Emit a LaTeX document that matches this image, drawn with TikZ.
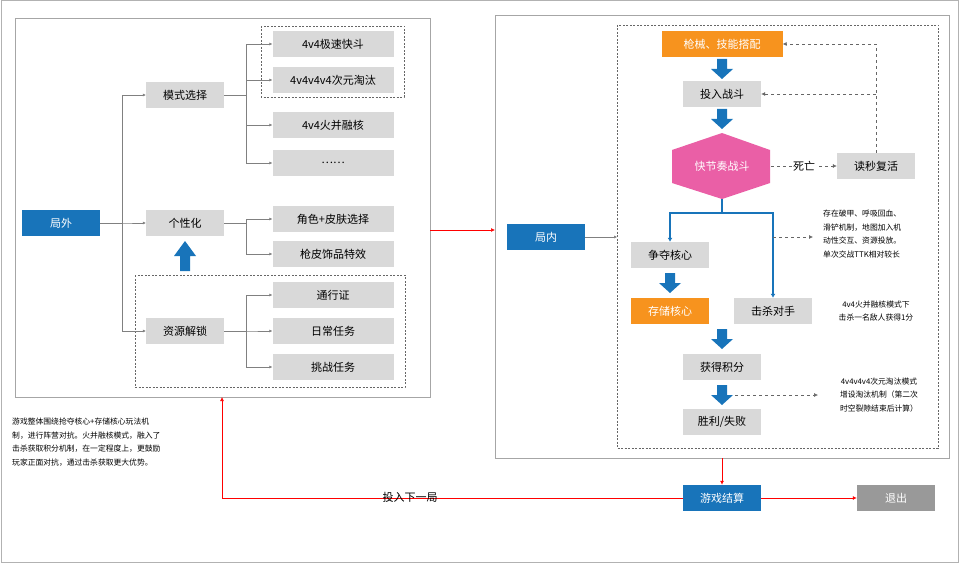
\documentclass[tikz,border=0pt]{standalone}
\usepackage{fontspec}
\setmainfont{Noto Sans CJK SC}
\usetikzlibrary{arrows.meta,shapes.geometric}
\definecolor{gb}{HTML}{D9D9D9}
\definecolor{bl}{HTML}{1874BA}
\definecolor{og}{HTML}{F7931E}
\definecolor{pk}{HTML}{EA5FA6}
\definecolor{dg}{HTML}{999999}
\newcommand\myblk[3]{\fill[bl,shift={(#1,#2)},yscale=#3] (-5,-10) -- (5,-10) -- (5,0) -- (11,0) -- (0,10) -- (-11,0) -- (-5,0) -- cycle;}
\begin{document}
\begin{tikzpicture}[x=1pt,y=-1pt,
 box/.style={fill=gb,minimum width=78pt,minimum height=26pt,inner sep=0pt,font=\fontsize{11}{12}\selectfont},
 wbox/.style={box,minimum width=121pt},
 bbox/.style={box,fill=bl,text=white},
 obox/.style={box,fill=og,text=white},
 ln/.style={draw=gray,line width=0.5pt,-{Latex[length=3pt,width=3pt]}},
 dl/.style={draw=gray!80!black,dashed,line width=0.6pt,-{Latex[length=4pt,width=4pt]}},
 dbox/.style={draw=gray!80!black,dash pattern=on 2pt off 1.5pt,line width=0.7pt},
 bar/.style={draw=bl,line width=1.2pt,-{Latex[length=4pt,width=5pt]}},
 red/.style={draw=red,line width=0.7pt,-{Latex[length=4pt,width=4pt]}},
 note/.style={font=\fontsize{7.8}{13.5}\selectfont,align=left,inner sep=0pt}]
\useasboundingbox (0,0) rectangle (960,564);
\draw[gray!60,line width=1pt] (1,1) rectangle (958,562);
\draw[gray!70,line width=0.8pt] (15,18) rectangle (430,397);
\draw[gray!70,line width=0.8pt] (495,15) rectangle (949,458);
\draw[dbox] (261,26) rectangle (404,97);
\draw[dbox] (135,275) rectangle (405,387);
\draw[dbox] (617,25) rectangle (938,448);
% left
\node[bbox] (jw) at (61,223) {局外};
\node[box] (ms) at (185,95) {模式选择};
\node[box] (gx) at (185,223) {个性化};
\node[box] (zy) at (185,331) {资源解锁};
\node[wbox] (m1) at (333,44) {4v4极速快斗};
\node[wbox] (m2) at (333,80) {4v4v4v4次元淘汰};
\node[wbox] (m3) at (333,125) {4v4火并融核};
\node[wbox] (m4) at (333,163) {……};
\node[wbox] (g1) at (333,219) {角色+皮肤选择};
\node[wbox] (g2) at (333,254) {枪皮饰品特效};
\node[wbox] (z1) at (333,295) {通行证};
\node[wbox] (z2) at (333,331) {日常任务};
\node[wbox] (z3) at (333,367) {挑战任务};
\foreach \t in {ms,gx,zy} \draw[ln] (jw.east) -- ++(22,0) |- (\t.west);
\foreach \t in {m1,m2,m3,m4} \draw[ln] (ms.east) -- ++(22,0) |- (\t.west);
\foreach \t in {g1,g2} \draw[ln] (gx.east) -- ++(22,0) |- (\t.west);
\foreach \t in {z1,z2,z3} \draw[ln] (zy.east) -- ++(22,0) |- (\t.west);
\myblk{185}{256}{-1.5}
% right
\coordinate (lb) at (430,230);
\coordinate (rb) at (495,230);
\draw[red] (lb) -- (rb);
\node[bbox] (jn) at (546,237) {局内};
\coordinate (di) at (617,237);
\draw[ln] (jn.east) -- (di);
\node[obox,minimum width=121pt] (qx) at (722,44) {枪械、技能搭配};
\node[box] (tr) at (722,94) {投入战斗};
\fill[pk] (722,133) -- (770,150) -- (770,183) -- (722,199) -- (672,183) -- (672,150) -- cycle;
\node[text=white,font=\fontsize{11}{12}\selectfont,inner sep=0pt,minimum width=98pt,minimum height=33pt] (hx) at (722,166) {快节奏战斗};
\node[box] (ds) at (876,166) {读秒复活};
\node[box] (zd) at (670,255) {争夺核心};
\node[obox] (cc) at (670,311) {存储核心};
\node[box] (js) at (773,311) {击杀对手};
\node[box] (hd) at (722,367) {获得积分};
\node[box] (sl) at (722,422) {胜利/失败};
\myblk{722}{69}{1}
\myblk{722}{119}{1}
\myblk{670}{283}{1}
\myblk{722}{339}{1}
\myblk{722}{395}{1}
\coordinate (hb) at (722,199);
\draw[bar] (hb) -- (722,213) -| (zd.north);
\draw[bar] (hb) -- (722,213) -| (js.north);
\draw[dl] (hx.east) -- node[fill=white,inner sep=1pt,font=\fontsize{11}{12}\selectfont]{死亡} (ds.west);
\draw[dl] (ds.north) |- (qx.east);
\draw[dl] (876,94) -- (tr.east);
\coordinate (n1) at (813,237);
\draw[dl] (773,237) -- (n1);
\node[note,anchor=north west] at (823,210) {存在破甲、呼吸回血、\\滑铲机制，地图加入机\\动性交互、资源投放。\\单次交战TTK相对较长};
\node[note,align=center] at (876,311) {4v4火并融核模式下\\击杀一名敌人获得1分};
\coordinate (n2) at (818,395);
\draw[dl] (735,395) -- (n2);
\node[note,align=center] at (879,395) {4v4v4v4次元淘汰模式\\增设淘汰机制（第二次\\时空裂隙结束后计算）};
% bottom
\node[bbox] (js2) at (722,498) {游戏结算};
\node[box,fill=dg,text=white] (tc) at (896,498) {退出};
\draw[red] (722,458) -- (js2.north);
\draw[red] (js2.east) -- (tc.west);
\draw[red] (js2.west) -| (222,397);
\node[font=\fontsize{11}{12}\selectfont] at (410,497) {投入下一局};
\node[note,anchor=north west] at (12,418) {游戏整体围绕抢夺核心+存储核心玩法机\\制，进行阵营对抗。火并融核模式，融入了\\击杀获取积分机制，在一定程度上，更鼓励\\玩家正面对抗，通过击杀获取更大优势。};
\end{tikzpicture}
\end{document}
